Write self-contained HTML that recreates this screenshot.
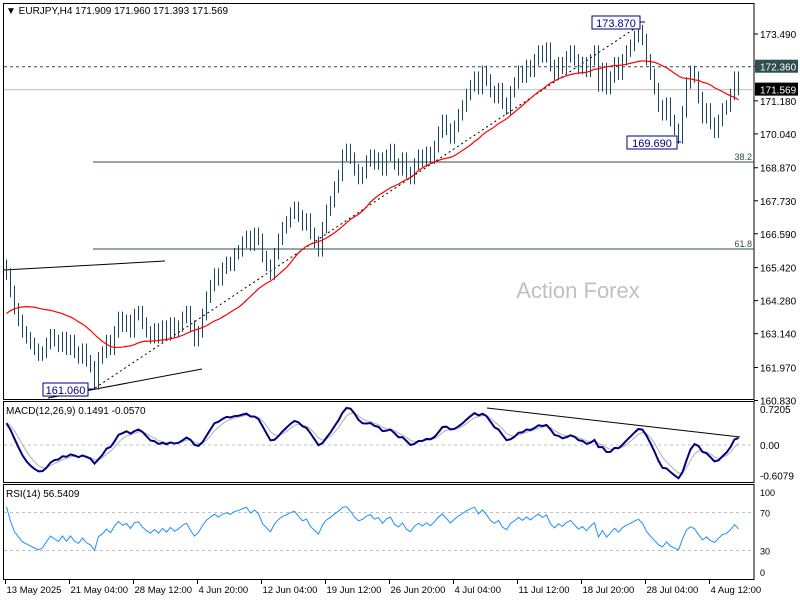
<!DOCTYPE html>
<html><head><meta charset="utf-8"><style>
body{margin:0;background:#fff;}
svg{display:block;font-family:"Liberation Sans",sans-serif;}
text{font-size:10px;fill:#000;}
</style></head><body>
<svg id="c" width="800" height="600" xmlns="http://www.w3.org/2000/svg">
<rect x="0" y="0" width="800" height="600" fill="#fff"/>
<g id="main"></g>
<g id="macd"></g>
<g id="rsi"></g>
<g id="xax"></g>
</svg>
<script>
const priorCloses=[162.2,162.4,162.6,162.5,162.8,163.0,162.9,163.2,163.4,163.3,163.6,163.8,163.7,164.0,164.2,164.1,164.4,164.6,164.5,164.8,165.0,164.9,165.3,165.5];
const closes=[165.2,164.6,164.0,163.6,163.2,163.0,162.8,162.6,162.4,162.5,162.8,163.1,162.9,162.7,163.0,162.6,162.9,162.5,162.3,162.6,162.2,162.0,161.4,162.3,162.5,162.9,162.6,163.2,163.7,163.4,163.6,163.2,163.8,163.9,163.5,163.2,163.0,163.3,163.0,163.4,163.1,163.5,163.2,163.4,163.7,163.9,163.4,162.9,163.2,163.8,164.4,164.8,165.2,165.0,165.4,165.6,165.5,165.9,166.0,166.3,166.5,166.2,166.6,166.4,165.8,165.5,165.2,165.9,166.4,166.8,167.0,167.3,167.5,167.2,166.9,167.1,166.6,166.3,166.0,166.8,167.4,167.7,168.2,168.6,169.3,169.5,169.2,168.8,168.5,168.7,169.1,169.3,169.0,169.2,168.8,169.3,169.5,169.0,168.8,169.2,168.7,168.5,169.0,169.3,169.1,169.4,169.2,169.6,170.1,170.5,170.2,169.9,170.3,170.7,171.0,171.4,171.7,172.0,171.6,172.2,171.9,171.5,171.3,171.6,171.1,170.9,171.5,171.8,172.2,172.0,172.4,172.2,172.6,172.9,172.7,173.0,172.4,172.1,172.5,172.3,172.7,172.9,172.6,172.3,172.5,172.2,172.6,172.9,171.7,172.3,171.6,172.0,172.5,172.1,172.6,172.9,173.1,173.4,173.6,173.3,172.6,172.1,171.6,171.0,170.7,171.1,170.5,170.2,169.9,170.8,171.8,172.2,172.0,171.3,170.6,170.9,170.4,170.1,170.5,170.9,171.0,171.4,172.0,171.569];
const priceTicks=[173.490,172.360,171.180,170.040,168.870,167.730,166.590,165.420,164.280,163.140,161.970,160.830];
const macdTicks=[0.7205,0.00,-0.6079];
const rsiTicks=[100,70,30,0];
const dateLabels=["13 May 2025","21 May 04:00","28 May 12:00","4 Jun 20:00","12 Jun 04:00","19 Jun 12:00","26 Jun 20:00","4 Jul 04:00","11 Jul 12:00","18 Jul 20:00","28 Jul 04:00","4 Aug 12:00"];
const dateIndex=[0,16,32,48,64,80,96,112,128,144,160,176];

const NS="http://www.w3.org/2000/svg";
function mk(p,tag,a){const e=document.createElementNS(NS,tag);for(const k in a)e.setAttribute(k,a[k]);p.appendChild(e);return e;}
const X=i=>6.5+i*4;
const Y=p=>34+(173.49-p)*28.95;
const MY=v=>445-v*50;
const RY=v=>579-v*0.95;
const R=754;
const main=document.getElementById('main'),mg=document.getElementById('macd'),rg=document.getElementById('rsi'),xg=document.getElementById('xax');

let b=mk(main,'rect',{x:3.5,y:3.5,width:R-3.5,height:396,fill:'none',stroke:'#000'});

b=mk(mg,'rect',{x:3.5,y:401.5,width:R-3.5,height:81,fill:'none',stroke:'#000'});

b=mk(rg,'rect',{x:3.5,y:484.5,width:R-3.5,height:95,fill:'none',stroke:'#000'});


let t=mk(main,'text',{x:6,y:14});t.textContent="▼ EURJPY,H4  171.909 171.960 171.393 171.569";

t=mk(main,'text',{x:578,y:298,'text-anchor':'middle',style:'font-size:22px;fill:#c0c0c0'});t.textContent="Action Forex";


priceTicks.forEach(v=>{const y=Y(v);mk(main,'line',{x1:R,x2:R+4,y1:y,y2:y,stroke:'#000'});
 const tt=mk(main,'text',{x:760,y:y+4});tt.textContent=v.toFixed(3);
 });

let l=mk(main,'line',{x1:4,x2:R,y1:Y(172.36),y2:Y(172.36),stroke:'#2f4f4f','stroke-dasharray':'3,3'});

l=mk(main,'line',{x1:4,x2:R,y1:Y(171.569),y2:Y(171.569),stroke:'#c0c0c0'});

l=mk(main,'line',{x1:93,x2:R,y1:162,y2:162,stroke:'#2f4f4f'});

l=mk(main,'line',{x1:93,x2:R,y1:249,y2:249,stroke:'#2f4f4f'});

t=mk(main,'text',{x:752,y:160,'text-anchor':'end',style:'font-size:9px;fill:#2f4f4f'});t.textContent="38.2";

t=mk(main,'text',{x:752,y:247,'text-anchor':'end',style:'font-size:9px;fill:#2f4f4f'});t.textContent="61.8";


l=mk(main,'line',{x1:4,y1:270,x2:165,y2:261,stroke:'#000'});
l=mk(main,'line',{x1:48,y1:398,x2:202,y2:369,stroke:'#000'});
l=mk(main,'line',{x1:95,y1:388,x2:640,y2:25,stroke:'#000','stroke-dasharray':'2,3'});

const all=priorCloses.concat(closes);const P=priorCloses.length;
let ma=[];for(let i=0;i<closes.length;i++){let s=0;for(let k=0;k<25;k++)s+=all[P+i-k]!==undefined?all[P+i-k]:all[0];ma.push(s/25);}
closes.forEach((c,i)=>{const o=i===0?priorCloses[P-1]:closes[i-1];const h=Math.max(o,c)+0.2,lo=Math.min(o,c)-0.2;const x=X(i);
 const g=mk(main,'path',{d:`M${x} ${Y(h)}V${Y(lo)}`,stroke:'#1a4459','stroke-width':1,fill:'none'});
 });
l=mk(main,'polyline',{points:ma.map((v,i)=>X(i)+','+Y(v)).join(' '),fill:'none',stroke:'#ff0000','stroke-width':1.2});


function box(txt,x,y,w,nm){const r=mk(main,'rect',{x:x,y:y,width:w,height:13,fill:'#fff',stroke:'#000080'});
 const tx=mk(main,'text',{x:x+w/2,y:y+11,'text-anchor':'middle',style:'font-size:11px;fill:#000080'});tx.textContent=txt;}
mk(main,'line',{x1:640,y1:22,x2:645,y2:22,stroke:'#000080'});
box("173.870",592,16,48,'high-label');
mk(main,'line',{x1:677,y1:142,x2:681,y2:142,stroke:'#000080'});
box("169.690",627,136,50,'low-label');
mk(main,'line',{x1:88,y1:389,x2:95,y2:389,stroke:'#000080'});
box("161.060",43,383,45,'bottom-label');

function tag(v,bg,nm){const y=Y(v);const r=mk(main,'rect',{x:755,y:y-7,width:43,height:13,fill:bg});
 const tx=mk(main,'text',{x:760,y:y+4,style:'fill:#fff'});tx.textContent=v.toFixed(3);}
tag(172.36,'#2f4f4f','resistance-tag');tag(171.569,'#000','price-tag');

function ema(arr,n){const k=2/(n+1);let out=[arr[0]];for(let i=1;i<arr.length;i++)out.push(arr[i]*k+out[i-1]*(1-k));return out;}
const e1=ema(all,6),e2=ema(all,13);const macdAll=e1.map((v,i)=>v-e2[i]);const sigAll=ema(macdAll,4);
const macdV=macdAll.slice(P),sigV=sigAll.slice(P);
l=mk(mg,'line',{x1:4,x2:R,y1:MY(0),y2:MY(0),stroke:'#c0c0c0','stroke-dasharray':'3,3'});
const clampM=v=>Math.max(403,Math.min(481,MY(v)));
l=mk(mg,'polyline',{points:sigV.map((v,i)=>X(i)+','+clampM(v)).join(' '),fill:'none',stroke:'#b0b0b0','stroke-width':1});

l=mk(mg,'polyline',{points:macdV.map((v,i)=>X(i)+','+clampM(v)).join(' '),fill:'none',stroke:'#000080','stroke-width':2});

l=mk(mg,'line',{x1:487,y1:408,x2:740,y2:437,stroke:'#000'});
t=mk(mg,'text',{x:6,y:414});t.textContent="MACD(12,26,9) 0.1491 -0.0570";
macdTicks.forEach(v=>{const tt=mk(mg,'text',{x:760,y:MY(v)+4});tt.textContent=v===0?"0.00":v.toFixed(4);});

let rsi=[];{let ag=0,al=0;const n=12;for(let i=1;i<all.length;i++){const d=all[i]-all[i-1];const g=Math.max(d,0),ls=Math.max(-d,0);
 if(i<=n){ag+=g/n;al+=ls/n;}else{ag=(ag*(n-1)+g)/n;al=(al*(n-1)+ls)/n;}
 if(i>=P)rsi.push(al===0?100:100-100/(1+ag/al));}}
[70,30].forEach(v=>{const ll=mk(rg,'line',{x1:4,x2:R,y1:RY(v),y2:RY(v),stroke:'#c0c0c0','stroke-dasharray':'3,3'});});
l=mk(rg,'polyline',{points:rsi.map((v,i)=>X(i)+','+Math.max(486,Math.min(578,RY(v)))).join(' '),fill:'none',stroke:'#1e90ff','stroke-width':1});

t=mk(rg,'text',{x:6,y:497});t.textContent="RSI(14) 56.5409";
rsiTicks.forEach(v=>{const y=Math.max(492,Math.min(572,RY(v)));const tt=mk(rg,'text',{x:760,y:y+4,style:'font-size:9px'});tt.textContent=v;});

dateLabels.forEach((s,k)=>{const x=Math.round(X(dateIndex[k])-2)+0.5;mk(xg,'line',{x1:x,x2:x,y1:580,y2:584,stroke:'#000'});
 const tt=mk(xg,'text',{x:x+1,y:593,style:'font-size:9.5px'});tt.textContent=s;});
</script>
</body></html>
